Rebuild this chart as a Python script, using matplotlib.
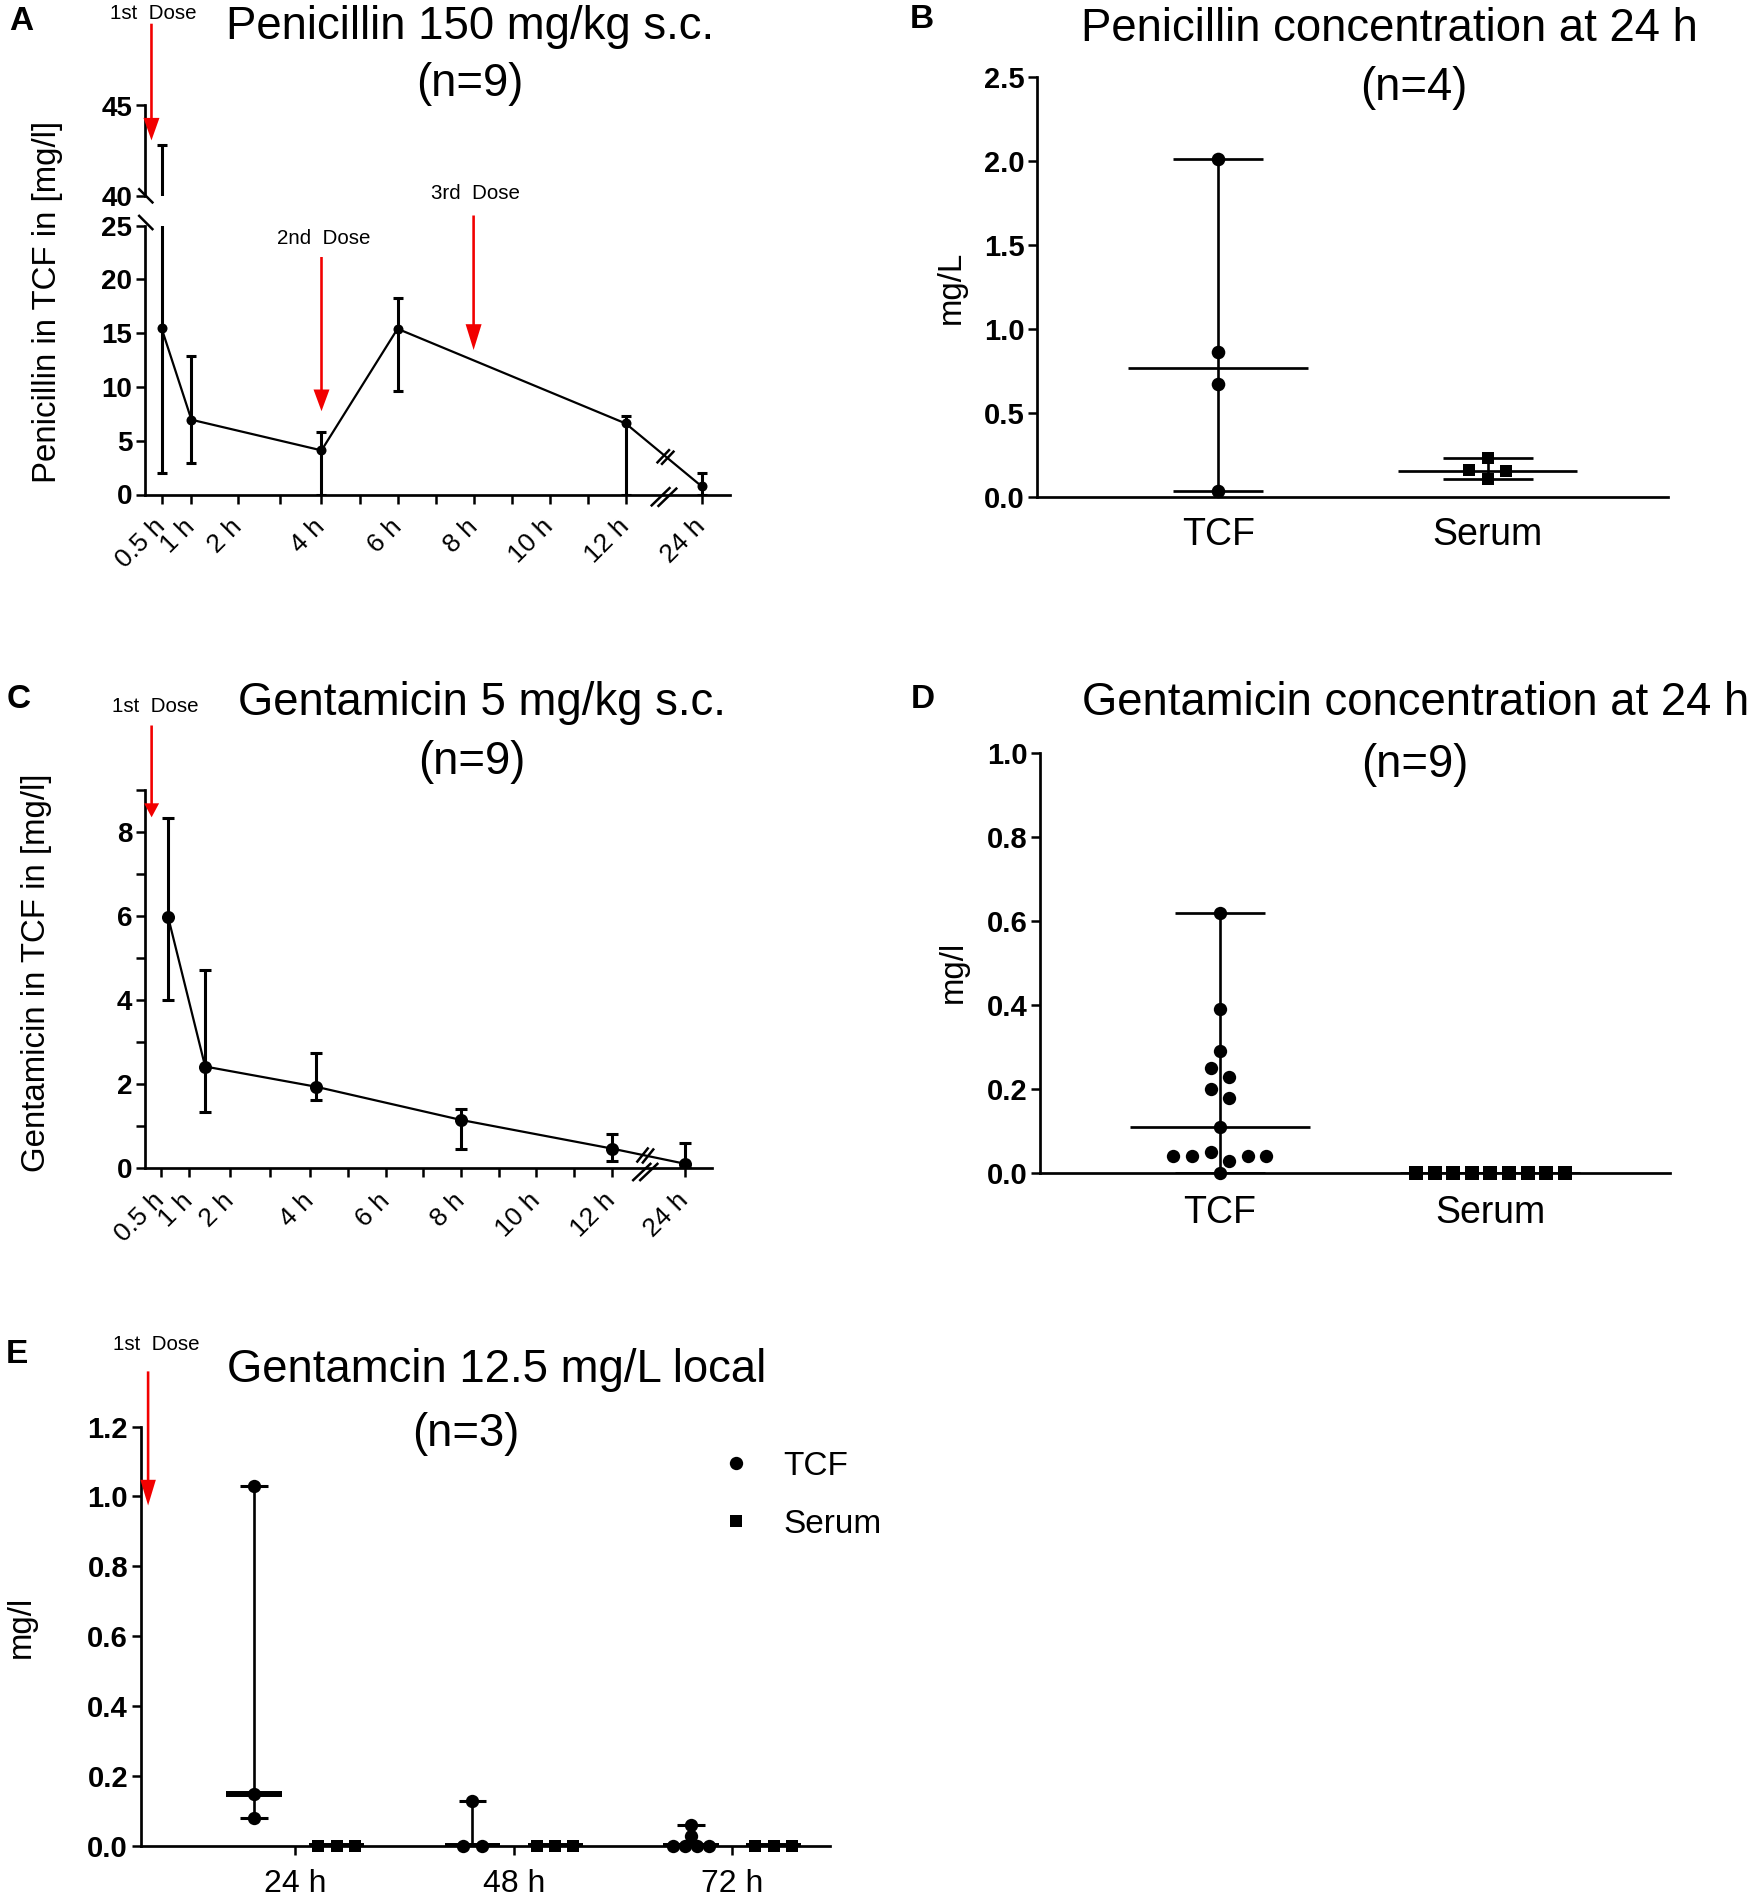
import numpy as np
import matplotlib
matplotlib.use("Agg")
import matplotlib.pyplot as plt
from matplotlib import transforms as mtransforms
from matplotlib.lines import Line2D
from matplotlib.patches import FancyArrow
from matplotlib.ticker import FixedLocator

plt.rcParams['font.family'] = ['Liberation Sans', 'DejaVu Sans']

# ---------------- data ----------------
# A: penicillin 150 mg/kg s.c. in TCF (mean, lower and upper end of error bar)
pen_hours = [0.5, 1, 4, 6, 12, 24]
pen_mean = [15.45, 6.95, 4.1, 15.4, 6.6, 0.75]
pen_low = [2.0, 2.93, 0.0, 9.66, 0.0, 0.0]
pen_high = [42.8, 12.88, 5.78, 18.3, 7.3, 2.0]
pen_dose_hours = [0.33, 4, 8]
pen_dose_names = ["1st  Dose", "2nd  Dose", "3rd  Dose"]

# B: penicillin at 24 h
pen24_tcf = [2.01, 0.86, 0.67, 0.03]
pen24_serum = [0.23, 0.155, 0.15, 0.105]

# C: gentamicin 5 mg/kg s.c. in TCF
gen_hours = [0.63, 1.4, 4.15, 8, 12, 24]
gen_mean = [5.97, 2.42, 1.94, 1.15, 0.47, 0.11]
gen_low = [4.0, 1.35, 1.63, 0.47, 0.18, 0.0]
gen_high = [8.32, 4.72, 2.73, 1.41, 0.82, 0.61]
gen_dose_hours = [0.33]

# D: gentamicin at 24 h
gen24_tcf = [0.62, 0.39, 0.29, 0.25, 0.23, 0.20, 0.18, 0.11,
             0.05, 0.04, 0.04, 0.04, 0.04, 0.03, 0.00]
gen24_serum = [0.0] * 9

# E: gentamicin 12.5 mg/L local
loc_times = ["24 h", "48 h", "72 h"]
loc_tcf = [[1.03, 0.15, 0.08], [0.13, 0.0, 0.0], [0.06, 0.03, 0.0, 0.0, 0.0, 0.0]]
loc_serum = [[0.0, 0.0, 0.0], [0.0, 0.0, 0.0], [0.0, 0.0, 0.0]]

hour_labels = [0.5, 1, 2, 4, 6, 8, 10, 12, 24]
hour_minor = [3, 5, 7, 9, 11]

# ---------------- layout ----------------
W, H = 1753, 1896
fig = plt.figure(figsize=(W / 100, H / 100), dpi=100)
T = mtransforms.Affine2D().scale(1 / W, -1 / H).translate(0, 1) + fig.transFigure

RED = '#f20000'
LW = 1.95
TITLE = 32.8
YLAB = 23.8


def px_axes(x0, y0, x1, y1):
    return fig.add_axes([x0 / W, 1 - y1 / H, (x1 - x0) / W, (y1 - y0) / H])


def hour_scale(hours, px):
    hours = np.asarray(hours, float)
    px = np.asarray(px, float)
    s0 = (px[1] - px[0]) / (hours[1] - hours[0])
    s1 = (px[-1] - px[-2]) / (hours[-1] - hours[-2])
    h = np.r_[hours[0] - 100, hours, hours[-1] + 100]
    p = np.r_[px[0] - 100 * s0, px, px[-1] + 100 * s1]
    return (lambda x: np.interp(x, h, p)), (lambda y: np.interp(y, p, h))


def style(ax, bottom=True):
    for s in ['top', 'right']:
        ax.spines[s].set_visible(False)
    ax.spines['left'].set_linewidth(LW)
    ax.spines['bottom'].set_linewidth(LW)
    ax.tick_params(axis='both', which='both', length=6.5, width=1.8, color='k')
    ax.tick_params(axis='y', which='both', pad=2.5)
    if not bottom:
        ax.spines['bottom'].set_visible(False)
        ax.tick_params(axis='x', which='both', bottom=False, labelbottom=False)


def set_yticks(ax, ticks, fmt, size):
    ax.set_yticks(ticks, [fmt.format(t) for t in ticks], fontweight='bold', fontsize=size)


def swarm(values, ppu, spacing, maxw, row_px=10):
    values = np.asarray(values, float)
    order = np.argsort(-values, kind='stable')
    rows = []
    for i in order:
        if rows and (values[rows[-1][-1]] - values[i]) * ppu < row_px:
            rows[-1].append(i)
        else:
            rows.append([i])
    off = np.zeros(len(values))
    for r in rows:
        n = len(r)
        if n == 1:
            continue
        s = min(spacing, maxw / (n - 1))
        slots = (np.arange(n) - (n - 1) / 2) * s
        slots = slots[np.argsort(np.abs(slots), kind='stable')]
        m = values[r].mean()
        rr = sorted(r, key=lambda i: -abs(values[i] - m))
        for i, sl in zip(rr, slots):
            off[i] = sl
    return off


def pline(x0, y0, x1, y1, lw=1.8, color='k'):
    fig.add_artist(Line2D([x0, x1], [y0, y1], transform=T, lw=lw, color=color,
                          solid_capstyle='butt'))


def break_marks(cx, cy, hx, hy, sx, sy):
    for k in (-0.5, 0.5):
        x, y = cx + k * sx, cy + k * sy
        pline(x - hx, y - hy, x + hx, y + hy)


def red_arrow(x, y0, y1, head_len, head_w=16):
    fig.add_artist(FancyArrow(x, y0, 0, y1 - y0, width=2.6, head_width=head_w,
                              head_length=head_len, length_includes_head=True,
                              color=RED, lw=0, transform=T))


def ftext(x, y, s, size, **kw):
    kw.setdefault('ha', 'center')
    kw.setdefault('va', 'center')
    fig.text(x, y, s, transform=T, fontsize=size, **kw)


def hour_axis(ax, fwd, inv, x0, x1):
    ax.set_xscale('function', functions=(fwd, inv))
    ax.set_xlim(inv(x0), inv(x1))
    ax.set_xticks(hour_labels, [f"{h:g} h" for h in hour_labels], rotation=45,
                  ha='right', va='center', rotation_mode='anchor', fontsize=19)
    ax.xaxis.set_minor_locator(FixedLocator(hour_minor))
    ax.tick_params(axis='x', which='major', pad=14)


def mean_err(ax, hours, mean, low, high, msize, cap):
    ax.vlines(hours, low, high, color='k', lw=2.2, zorder=2)
    for ends in (low, high):
        ax.plot(hours, ends, ls='', marker='_', ms=cap, mew=2.2, color='k', zorder=2)
    ax.plot(hours, mean, '-o', color='k', lw=1.6, ms=msize, mew=0, zorder=3)


# ---------------- panel A ----------------
fwdA, invA = hour_scale([0.5, 1, 2, 4, 12, 24], [161.6, 191.4, 237.9, 321.5, 625.7, 701.8])
axA_up = px_axes(144.8, 105.5, 729.5, 196)
axA = px_axes(144.8, 225.5, 729.5, 494.5)
for ax in (axA_up, axA):
    mean_err(ax, pen_hours, pen_mean, pen_low, pen_high, 7.2, 7.5)
    ax.set_xscale('function', functions=(fwdA, invA))
    ax.set_xlim(invA(144.8), invA(729.5))
style(axA_up, bottom=False)
axA_up.set_ylim(40, 45)
set_yticks(axA_up, [40, 45], "{:d}", 20)
style(axA)
axA.set_ylim(0, 25)
set_yticks(axA, [0, 5, 10, 15, 20, 25], "{:d}", 20)
hour_axis(axA, fwdA, invA, 144.8, 729.5)

# y-axis break and time-axis breaks
pline(138.3, 188.3, 153.3, 203.3)
pline(138.3, 215.0, 153.3, 230.0)
break_marks(664.0, 497.0, 9.8, -9.5, 6.8, 0.5)
break_marks(665.5, 457.0, 6.6, -7.0, 4.5, 1.5)

ftext(470, 27, "Penicillin 150 mg/kg s.c.", TITLE)
ftext(470, 84, "(n=9)", TITLE)
ftext(47.7, 302, "Penicillin in TCF in [mg/l]", YLAB, rotation=90)
dose_y = [(13.8, 23.7, 140.4, 22.5), (238.4, 257.0, 411.2, 21.7), (193.7, 215.5, 350.0, 25.8)]
for h, name, (ty, y0, y1, hl) in zip(pen_dose_hours, pen_dose_names, dose_y):
    xa = float(fwdA(h))
    ftext(xa + 2, ty, name, 14.8)
    red_arrow(xa, y0, y1, hl)
ftext(21, 21, "A", 24, fontweight='bold')


# ---------------- panel B ----------------
def dot_panel(ax, groups, markers, sizes, ppu_y, ppu_x, spacing, maxw, med_hw, cap_hw,
              med_lw=LW, cap_lw=LW, xs=None):
    xs = range(len(groups)) if xs is None else xs
    for x, vals, mk, ms in zip(xs, groups, markers, sizes):
        vals = np.asarray(vals, float)
        off = swarm(vals, ppu_y, spacing, maxw) / ppu_x
        lo, hi, med = vals.min(), vals.max(), np.median(vals)
        ax.vlines(x, lo, hi, color='k', lw=1.9, zorder=3)
        ax.hlines([lo, hi], x - cap_hw, x + cap_hw, color='k', lw=cap_lw, zorder=3)
        ax.hlines(med, x - med_hw, x + med_hw, color='k', lw=med_lw, zorder=3)
        ax.plot(x + off, vals, ls='', marker=mk, ms=ms, mew=0, color='k',
                clip_on=False, zorder=4)


axB = px_axes(1037.1, 76.6, 1668.2, 496.5)
style(axB)
dot_panel(axB, [pen24_tcf, pen24_serum], ['o', 's'], [9.8, 9.2], 168.0, 269.3,
          18.6, 160, 0.334, 0.167)
axB.set_xlim(-0.673, 1.671)
axB.set_ylim(0, 2.5)
set_yticks(axB, [0, 0.5, 1.0, 1.5, 2.0, 2.5], "{:.1f}", 21)
axB.set_xticks([0, 1], ["TCF", "Serum"], fontsize=27)
axB.tick_params(axis='x', length=0, pad=14.5)
ftext(1389.7, 29, "Penicillin concentration at 24 h", TITLE)
ftext(1414, 88, "(n=4)", TITLE)
ftext(951.7, 287.6, "mg/L", YLAB, rotation=90)
ftext(921.5, 20, "B", 24, fontweight='bold')

# ---------------- panel C ----------------
fwdC, invC = hour_scale([0.5, 1, 2, 4, 12, 24], [161.0, 188.6, 230.0, 310.3, 611.7, 684.6])
axC = px_axes(144.8, 789.8, 711.6, 1168.3)
style(axC)
mean_err(axC, gen_hours, gen_mean, gen_low, gen_high, 9.4, 8.5)
hour_axis(axC, fwdC, invC, 144.8, 711.6)
axC.set_ylim(0, 9)
set_yticks(axC, [0, 2, 4, 6, 8], "{:d}", 20)
axC.yaxis.set_minor_locator(FixedLocator([1, 3, 5, 7, 9]))
break_marks(645.3, 1172.0, 9.5, -9.0, 7.0, 0.0)
break_marks(645.3, 1155.5, 6.0, -7.5, 5.5, 1.0)
ftext(482, 703, "Gentamicin 5 mg/kg s.c.", TITLE)
ftext(471.4, 762, "(n=9)", TITLE)
ftext(36.5, 973, "Gentamicin in TCF in [mg/l]", YLAB, rotation=90)
xa = float(fwdC(gen_dose_hours[0]))
ftext(xa + 4, 707, "1st  Dose", 14.8)
red_arrow(xa, 725.5, 817.3, 14.0, head_w=15)
ftext(19, 699, "C", 24, fontweight='bold')

# ---------------- panel D ----------------
axD = px_axes(1040.4, 753.2, 1669.9, 1173.1)
style(axD)
dot_panel(axD, [gen24_tcf, gen24_serum], ['o', 's'], [9.6, 9.8], 420.0, 270.3,
          18.6, 160, 0.333, 0.1665)
axD.set_xlim(-0.664, 1.664)
axD.set_ylim(0, 1.0)
set_yticks(axD, [0, 0.2, 0.4, 0.6, 0.8, 1.0], "{:.1f}", 21)
axD.set_xticks([0, 1], ["TCF", "Serum"], fontsize=27)
axD.tick_params(axis='x', length=0, pad=15.5)
ftext(1415.5, 703, "Gentamicin concentration at 24 h", TITLE)
ftext(1415, 765, "(n=9)", TITLE)
ftext(953, 971.4, "mg/l", YLAB, rotation=90)
ftext(922.5, 699, "D", 24, fontweight='bold')

# ---------------- panel E ----------------
axE = px_axes(140.6, 1426.5, 829.5, 1846.1)
style(axE)
grp_off = 0.189
for k in range(len(loc_times)):
    dot_panel(axE, [loc_tcf[k], loc_serum[k]], ['o', 's'], [9.6, 9.1], 349.7, 218.5,
              18.2, 36.5, 0.126, 0.0634, med_lw=4.3, cap_lw=2.2,
              xs=[k - grp_off, k + grp_off])
axE.set_xlim(-0.708, 2.445)
axE.set_ylim(0, 1.2)
set_yticks(axE, [0, 0.2, 0.4, 0.6, 0.8, 1.0, 1.2], "{:.1f}", 21)
axE.set_xticks(range(len(loc_times)), loc_times, fontsize=23)
axE.tick_params(axis='x', pad=10)
handles = [Line2D([], [], ls='', marker='o', ms=9.6, mew=0, color='k'),
           Line2D([], [], ls='', marker='s', ms=9.1, mew=0, color='k')]
axE.legend(handles, ["TCF", "Serum"], loc='upper left',
           bbox_to_anchor=(719.3 / W, 1 - 1451 / H), bbox_transform=fig.transFigure,
           frameon=False, fontsize=24, handlelength=1.0, handletextpad=0.92,
           labelspacing=0.8, borderpad=0, borderaxespad=0)
ftext(496.6, 1370, "Gentamcin 12.5 mg/L local", TITLE)
ftext(466, 1434, "(n=3)", TITLE)
ftext(21.5, 1626.8, "mg/l", YLAB, rotation=90)
ftext(156, 1345, "1st  Dose", 14.8)
red_arrow(148.1, 1371.4, 1505.5, 25.7, head_w=15.5)
ftext(17, 1355, "E", 24, fontweight='bold')

fig.savefig("out.png", dpi=100)
